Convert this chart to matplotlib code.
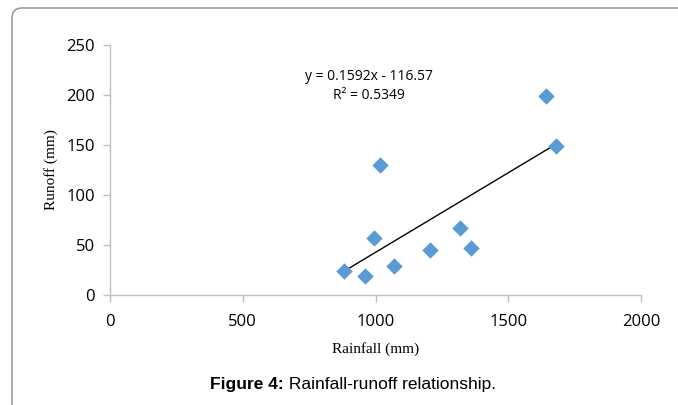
import matplotlib
matplotlib.use("Agg")
import matplotlib.pyplot as plt
from matplotlib.path import Path
from matplotlib.patches import PathPatch
import numpy as np

# rainfall-runoff points
rainfall = [881, 960, 994, 1017, 1070, 1205, 1318, 1360, 1642, 1680]
runoff = [24, 19, 57, 130, 29, 45, 67, 47, 199, 149]

# Excel linear trendline as printed on the chart
slope = 0.1592
intercept = -116.57
r2 = 0.5349

x_ticks = [0, 500, 1000, 1500, 2000]
y_ticks = [0, 50, 100, 150, 200, 250]

grey = "#bfbfbf"
tick_font = "Open Sans"
W, H = 678, 405

fig = plt.figure(figsize=(W / 100, H / 100), dpi=100)

# frame: left edge and top edge with a rounded corner (rest is cropped off)
r = 10
top = H - 8
verts = [(12, -5), (12, top - r), (12, top), (12 + r, top), (W + 5, top)]
codes = [Path.MOVETO, Path.LINETO, Path.CURVE3, Path.CURVE3, Path.LINETO]
fig.patches.append(PathPatch(Path([(x / W, y / H) for x, y in verts], codes),
                             transform=fig.transFigure, fill=False,
                             edgecolor="#8c8c8c", linewidth=1.0))

ax = fig.add_axes([110 / W, 1 - 295 / H, (641 - 110) / W, (295 - 45) / H])

ax.scatter(rainfall, runoff, marker="D", s=70, color="#5b9bd5", zorder=3, linewidths=0)

xs = np.array([min(rainfall), max(rainfall)])
ax.plot(xs, slope * xs + intercept, color="black", linewidth=1.0, zorder=2)

ax.text(0.487, 0.876, "y = %.4fx - %.2f" % (slope, -intercept), transform=ax.transAxes,
        fontsize=10, family=tick_font, ha="center", va="center")
ax.text(0.487, 0.798, "R² = %.4f" % r2, transform=ax.transAxes, fontsize=10,
        family=tick_font, ha="center", va="center")

ax.set_xlim(0, 2000)
ax.set_ylim(0, 250)
ax.set_xticks(x_ticks)
ax.set_yticks(y_ticks)

for s in ["top", "right"]:
    ax.spines[s].set_visible(False)
for s in ["left", "bottom"]:
    ax.spines[s].set_color(grey)
    ax.spines[s].set_linewidth(1.0)
ax.tick_params(direction="out", length=5, width=1.0, color=grey, labelsize=12)
ax.tick_params(axis="x", pad=9)
ax.tick_params(axis="y", pad=6)
for lab in ax.get_xticklabels() + ax.get_yticklabels():
    lab.set_family(tick_font)

ax.set_xlabel("Rainfall (mm)", family="Liberation Serif", fontsize=11, labelpad=8)
ax.set_ylabel("Runoff (mm)", family="Liberation Serif", fontsize=11, labelpad=6)

# caption: bold lead-in followed by plain text, centred as a whole
cap_y = 1 - 384 / H
t1 = fig.text(0, cap_y, "Figure 4:", family="Liberation Sans", fontweight="bold",
              fontsize=12.5, va="center")
t2 = fig.text(0, cap_y, " Rainfall-runoff relationship.", family="Liberation Sans",
              fontsize=12.5, va="center")
rend = fig.canvas.get_renderer()
w1 = t1.get_window_extent(rend).width
w2 = t2.get_window_extent(rend).width
x0 = 353 - (w1 + w2) / 2
t1.set_x(x0 / W)
t2.set_x((x0 + w1) / W)

fig.savefig("out.png", dpi=100)
